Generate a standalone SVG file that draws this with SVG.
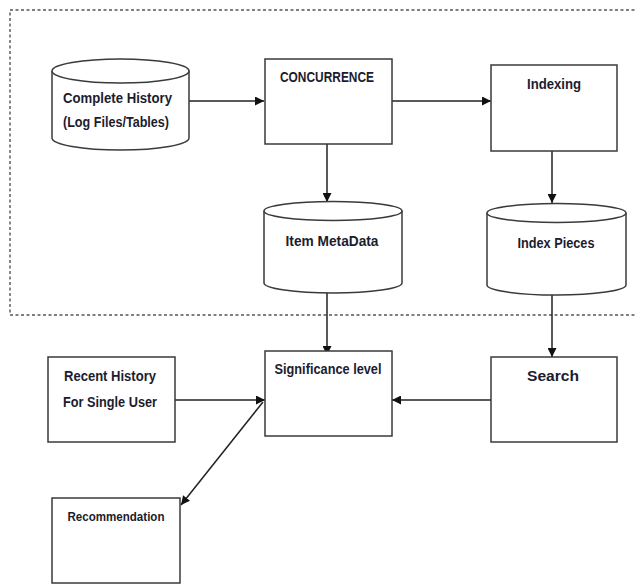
<svg xmlns="http://www.w3.org/2000/svg" width="636" height="585" viewBox="0 0 636 585">
<style>
.box{fill:#fff;stroke:#3a3a3a;stroke-width:1.5}
.t{font-family:"Liberation Sans",Arial,sans-serif;font-weight:bold;font-size:14px;fill:#1c1c2e;text-anchor:middle}
.c{fill:none;stroke:#222;stroke-width:1.5}
</style>
<defs>
<marker id="ah" viewBox="0 0 10 10" refX="10" refY="5" markerWidth="9" markerHeight="9" markerUnits="userSpaceOnUse" orient="auto">
<path d="M0,0 L10,5 L0,10 z" fill="#111"/>
</marker>
</defs>
<rect width="636" height="585" fill="#fff"/>
<path d="M640,10 H10 V315 H640" fill="none" stroke="#555" stroke-width="1.4" stroke-dasharray="3,2.5"/>
<g id="connectors">
<line class="c" x1="189" y1="101" x2="264" y2="101" marker-end="url(#ah)"/>
<line class="c" x1="392" y1="101" x2="491" y2="101" marker-end="url(#ah)"/>
<line class="c" x1="327" y1="144" x2="327" y2="202" marker-end="url(#ah)"/>
<line class="c" x1="552" y1="151" x2="552" y2="203" marker-end="url(#ah)"/>
<line class="c" x1="327" y1="293" x2="327" y2="355" marker-end="url(#ah)"/>
<line class="c" x1="552" y1="295" x2="552" y2="357" marker-end="url(#ah)"/>
<line class="c" x1="491" y1="400" x2="392" y2="400" marker-end="url(#ah)"/>
<line class="c" x1="175" y1="400" x2="265" y2="400" marker-end="url(#ah)"/>
<line class="c" x1="263" y1="402" x2="181" y2="505" marker-end="url(#ah)"/>
</g>
<g id="complete-history">
<path class="box" d="M52,71 V138 A68.5,12 0 0 0 189,138 V71"/>
<ellipse class="box" cx="120.5" cy="71" rx="68.5" ry="12"/>
<text class="t" x="117.5" y="103" textLength="109" lengthAdjust="spacingAndGlyphs">Complete History</text>
<text class="t" x="116" y="127" textLength="106" lengthAdjust="spacingAndGlyphs">(Log Files/Tables)</text>
</g>
<g id="concurrence">
<rect class="box" x="265" y="59" width="127" height="85"/>
<text class="t" x="327" y="82" textLength="94" lengthAdjust="spacingAndGlyphs">CONCURRENCE</text>
</g>
<g id="indexing">
<rect class="box" x="491" y="65" width="126" height="86"/>
<text class="t" x="554" y="89" textLength="54" lengthAdjust="spacingAndGlyphs">Indexing</text>
</g>
<g id="item-metadata">
<path class="box" d="M264,211 V283 A69,10 0 0 0 402,283 V211"/>
<ellipse class="box" cx="333" cy="211" rx="69" ry="9.5"/>
<text class="t" x="332" y="246" textLength="93" lengthAdjust="spacingAndGlyphs">Item MetaData</text>
</g>
<g id="index-pieces">
<path class="box" d="M487,213 V285 A69.5,10 0 0 0 626,285 V213"/>
<ellipse class="box" cx="556.5" cy="213" rx="69.5" ry="9.5"/>
<text class="t" x="556" y="248" textLength="77" lengthAdjust="spacingAndGlyphs">Index Pieces</text>
</g>
<g id="significance">
<rect class="box" x="265" y="351" width="127" height="85"/>
<text class="t" x="328" y="374" textLength="107" lengthAdjust="spacingAndGlyphs">Significance level</text>
</g>
<g id="search">
<rect class="box" x="491" y="357" width="126" height="85"/>
<text class="t" x="553" y="381" textLength="52" lengthAdjust="spacingAndGlyphs">Search</text>
</g>
<g id="recent-history">
<rect class="box" x="48" y="357" width="127" height="85"/>
<text class="t" x="110" y="381" textLength="92" lengthAdjust="spacingAndGlyphs">Recent History</text>
<text class="t" x="110" y="407" textLength="94" lengthAdjust="spacingAndGlyphs">For Single User</text>
</g>
<g id="recommendation">
<rect class="box" x="52" y="498" width="128" height="85"/>
<text class="t" x="116" y="521" style="font-size:12.5px" textLength="97" lengthAdjust="spacingAndGlyphs">Recommendation</text>
</g>
</svg>
